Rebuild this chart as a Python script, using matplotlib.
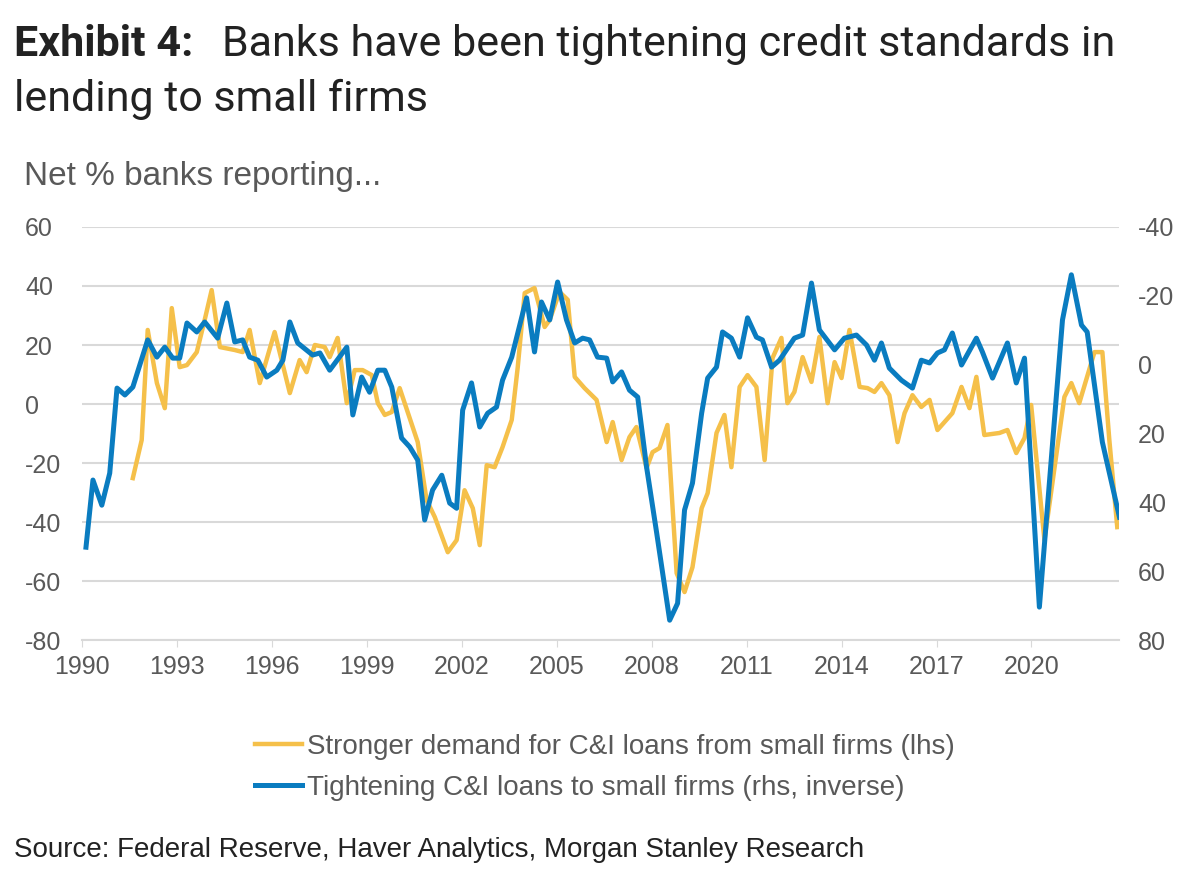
import matplotlib.pyplot as plt
from matplotlib.lines import Line2D

# yellow: stronger demand (lhs), decimal years after 1990
dem_t = [1.61, 1.89, 2.08, 2.37, 2.62, 2.84, 3.09, 3.32, 3.63, 3.88, 4.10, 4.36, 4.83, 5.08, 5.30,
         5.62, 6.09, 6.57, 6.88, 7.10, 7.36, 7.67, 7.83, 8.08, 8.37, 8.62, 8.87, 9.16, 9.35, 9.57,
         9.79, 10.04, 10.61, 10.89, 11.15, 11.56, 11.84, 12.09, 12.35, 12.57, 12.79, 13.04, 13.29,
         13.58, 13.77, 13.99, 14.30, 14.62, 14.78, 15.09, 15.35, 15.57, 15.88, 16.26, 16.58, 16.77,
         17.05, 17.30, 17.52, 17.84, 18.03, 18.25, 18.50, 18.79, 19.04, 19.29, 19.58, 19.77, 20.05,
         20.30, 20.52, 20.78, 21.03, 21.31, 21.57, 21.82, 22.10, 22.29, 22.51, 22.77, 23.05, 23.30,
         23.56, 23.78, 24.00, 24.25, 24.57, 24.82, 25.04, 25.26, 25.51, 25.77, 25.99, 26.24, 26.52,
         26.78, 27.03, 27.50, 27.79, 28.04, 28.26, 28.51, 28.99, 29.24, 29.52, 29.78, 29.99, 30.41,
         31.04, 31.26, 31.51, 31.99, 32.24, 32.46, 32.71]
dem_v = [-25.1, -12.2, 25.1, 7.1, -1.4, 32.5, 12.5, 13.2, 17.6, 28.5, 38.6, 19.3, 18.3, 17.6, 25.1,
         7.1, 24.4, 3.7, 14.9, 10.8, 20.0, 19.3, 15.9, 22.4, 0.3, 11.5, 11.5, 9.8, 0.3, -3.7,
         -2.7, 5.4, -12.9, -32.5, -38.3, -50.2, -46.1, -29.2, -35.3, -47.8, -20.7, -21.4, -14.6,
         -5.4, 12.5, 37.6, 39.3, 26.1, 28.5, 38.0, 35.3, 9.2, 5.4, 1.4, -12.9, -6.1,
         -19.0, -11.2, -7.8, -21.7, -16.3, -14.9, -7.1, -57.3, -63.7, -55.3, -35.3, -30.2, -9.8,
         -3.7, -21.4, 5.8, 9.8, 5.8, -19.0, 15.6, 22.4, 0.3, 4.1, 15.9, 7.5, 22.7,
         0.3, 14.2, 8.8, 25.1, 5.8, 5.4, 4.1, 7.1, 3.0, -12.9, -3.1, 3.0, -1.0,
         1.4, -8.8, -3.1, 5.8, -1.4, 9.2, -10.5, -9.8, -8.8, -16.6, -11.5, -0.3, -46.1,
         2.4, 7.1, 0.3, 17.6, 17.6, -12.2, -41.7]

# blue: tightening standards (rhs, inverse)
tig_t = [0.13, 0.35, 0.63, 0.88, 1.11, 1.36, 1.61, 2.08, 2.37, 2.62, 2.87, 3.09, 3.32, 3.63, 3.88,
         4.29, 4.58, 4.83, 5.08, 5.30, 5.56, 5.84, 6.16, 6.35, 6.57, 6.82, 7.29, 7.52, 7.83, 8.37,
         8.56, 8.84, 9.09, 9.35, 9.57, 9.79, 10.10, 10.36, 10.61, 10.83, 11.08, 11.37, 11.62, 11.84,
         12.03, 12.31, 12.57, 12.82, 13.10, 13.29, 13.58, 14.05, 14.30, 14.52, 14.78, 15.03, 15.31,
         15.57, 15.82, 16.04, 16.29, 16.58, 16.77, 17.05, 17.30, 17.56, 17.84, 18.16, 18.57, 18.82,
         19.04, 19.29, 19.58, 19.77, 20.05, 20.24, 20.52, 20.78, 21.03, 21.31, 21.50, 21.79, 22.04,
         22.51, 22.77, 23.05, 23.30, 23.78, 24.09, 24.47, 24.79, 25.04, 25.26, 25.51, 25.89, 26.24,
         26.52, 26.78, 27.03, 27.25, 27.50, 27.79, 28.26, 28.45, 28.77, 29.24, 29.52, 29.78, 30.25,
         30.98, 31.26, 31.58, 31.76, 32.24, 32.78]
tig_v = [53.0, 33.5, 40.8, 31.5, 6.8, 8.8, 6.5, -7.2, -2.2, -5.1, -1.9, -1.9, -12.1, -9.5, -12.4,
         -7.7, -17.9, -6.6, -7.2, -2.2, -1.3, 3.6, 1.6, -1.3, -12.4, -6.3, -2.8, -3.4, 1.6, -5.1,
         14.6, 3.6, 8.0, 1.6, 1.6, 6.5, 21.3, 23.9, 27.7, 45.1, 36.4, 32.1, 40.2, 41.7,
         13.2, 5.3, 18.1, 14.1, 12.3, 4.5, -2.2, -19.4, -3.7, -18.2, -13.0, -24.0, -13.0,
         -6.3, -7.7, -7.2, -2.2, -1.9, 5.0, 2.1, 7.4, 9.4, 29.7, 48.9, 74.2, 69.3,
         42.2, 34.4, 14.1, 3.9, 0.7, -9.5, -7.7, -2.2, -13.6, -8.0, -7.2, 0.7, -1.3,
         -7.7, -8.6, -23.7, -10.1, -4.3, -7.7, -8.6, -5.7, -1.3, -6.3, 1.0, 4.5, 6.8,
         -1.3, -0.5, -3.4, -4.3, -9.2, 0.1, -7.7, -3.7, 3.9, -6.3, 5.3, -1.9, 70.4,
         -13.0, -26.1, -11.5, -9.5, 22.5, 44.3]

dem_x = [1990 + t for t in dem_t]
tig_x = [1990 + t for t in tig_t]
years = list(range(1990, 2021, 3))

plt.rcParams['font.family'] = ['Liberation Sans', 'DejaVu Sans']
plt.rcParams['axes.unicode_minus'] = False
yellow = "#f5c04a"
blue = "#0a7cc0"
grey = "#595959"

fig = plt.figure(figsize=(12.04, 8.83), dpi=100)
ax = fig.add_axes([0.068, 0.275, 0.861, 0.468])
ax2 = ax.twinx()

ax.plot(dem_x, dem_v, color=yellow, lw=3.2, zorder=2)
ax2.plot(tig_x, tig_v, color=blue, lw=3.6, zorder=3)

ax.set_xlim(1990, 2022.75)
ax.set_ylim(-80, 60)
ax.set_yticks(range(-80, 61, 20))
ax2.set_ylim(80, -40)
ax2.set_yticks(range(-40, 81, 20))
ax.set_xticks(years)
ax.grid(axis='y', color="#d9d9d9", lw=1.5)
ax.set_axisbelow(True)
for a in (ax, ax2):
    for s in a.spines.values():
        s.set_visible(False)
    a.tick_params(axis='y', length=0, labelsize=18, labelcolor=grey)
ax.spines['bottom'].set_visible(True)
ax.spines['bottom'].set_color("#d9d9d9")
ax.spines['bottom'].set_linewidth(1.5)
ax.tick_params(axis='x', length=5, color="#d9d9d9", labelsize=18, labelcolor=grey, pad=6)
ax.tick_params(axis='y', pad=41)
ax2.tick_params(axis='y', pad=14)
for lbl in ax.get_yticklabels():
    lbl.set_horizontalalignment('left')

fig.text(0.012, 0.950, "Exhibit 4:", fontsize=31, fontweight='bold', family='Roboto',
         color="#222222", va='center')
fig.text(0.184, 0.950, "Banks have been tightening credit standards in", fontsize=31,
         family='Roboto', color="#222222", va='center')
fig.text(0.012, 0.887, "lending to small firms", fontsize=31, family='Roboto',
         color="#222222", va='center')
fig.text(0.020, 0.800, "Net % banks reporting...", fontsize=24, color=grey, va='center')

handles = [Line2D([], [], color=yellow, lw=3.2), Line2D([], [], color=blue, lw=3.6)]
fig.legend(handles, ["Stronger demand for C&I loans from small firms (lhs)",
                     "Tightening C&I loans to small firms (rhs, inverse)"],
           loc='upper left', bbox_to_anchor=(0.200, 0.185), frameon=False, fontsize=20,
           labelcolor=grey, handlelength=1.7, handletextpad=0.2, labelspacing=0.55,
           borderpad=0)

fig.text(0.012, 0.037, "Source: Federal Reserve, Haver Analytics, Morgan Stanley Research",
         fontsize=20, color="#222222", va='center')

fig.savefig("out.png", dpi=100)
